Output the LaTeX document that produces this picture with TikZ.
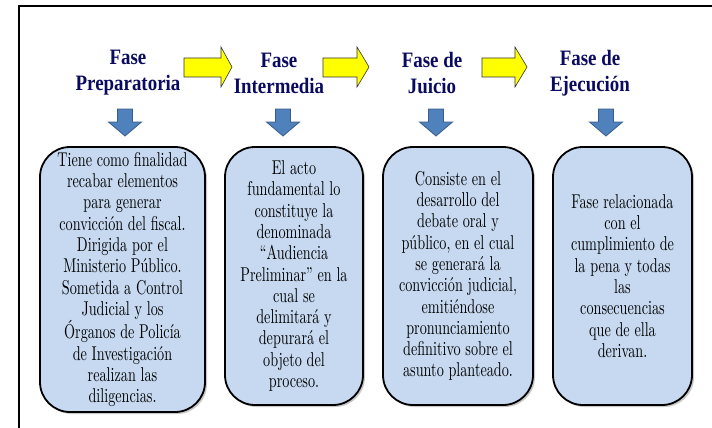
\documentclass[tikz,border=0pt]{standalone}
\usepackage{fontspec}
\newfontfamily\headfont[FakeStretch=0.86]{Liberation Serif}
\newfontfamily\boxfont[Extension=.otf,FakeStretch=0.71]{lmroman10-regular}
\definecolor{navy}{RGB}{10,10,96}
\definecolor{boxblue}{RGB}{198,217,240}
\definecolor{arrblue}{RGB}{79,129,189}
\definecolor{arrblueline}{RGB}{56,93,138}
\definecolor{yel}{RGB}{255,255,0}
\tikzset{
  head/.style={align=center,text=navy,font=\headfont\bfseries\fontsize{22}{26}\selectfont,inner sep=0pt},
  phasebox/.style={draw=black,line width=1.8pt,fill=boxblue,rounded corners=30pt,align=center,
     font=\boxfont\fontsize{20}{21.3}\selectfont,inner sep=0pt},
  yarrow/.style={fill=yel,draw=black!80,line width=0.6pt},
  barrow/.style={fill=arrblue,draw=arrblueline,line width=0.8pt},
  shadowbox/.style={fill=black!22,rounded corners=30pt}
}
\begin{document}
\begin{tikzpicture}[x=1pt,y=-1pt]
\useasboundingbox (0,0) rectangle (712,428);
% frame
\draw[line width=2.4pt] (19,428) -- (19,6) -- (712,6);
% headings
\node[head] (h1) at (128,73) {Fase\\Preparatoria};
\node[head] (h2) at (279,73) {Fase\\Intermedia};
\node[head] (h3) at (432,73) {Fase de\\Juicio};
\node[head] (h4) at (590,73) {Fase de\\Ejecución};
% yellow arrows
\draw[yarrow] (184,58) -- (221,58) -- (221,47) -- (232,67) -- (221,87) -- (221,77) -- (184,77) -- cycle;
\draw[yarrow] (323,58) -- (357,58) -- (357,47) -- (369,67) -- (357,87) -- (357,77) -- (323,77) -- cycle;
\draw[yarrow] (482,58) -- (515,58) -- (515,47) -- (527,67) -- (515,87) -- (515,77) -- (482,77) -- cycle;
% blue down arrows
\foreach \c in {125,283,436,606}{
  \draw[barrow] (\c-7.5,109) -- (\c+7.5,109) -- (\c+7.5,122) -- (\c+16.5,122) -- (\c,136)
     -- (\c-16.5,122) -- (\c-7.5,122) -- cycle;
}
% shadows
\fill[shadowbox] (42,149) rectangle (207,414);
\fill[shadowbox] (227,149) rectangle (365,407);
\fill[shadowbox] (385,149) rectangle (535,407);
\fill[shadowbox] (555,149) rectangle (694,407);
% boxes
\node[phasebox,minimum width=165pt,minimum height=265pt] (b1) at (122.5,279.5)
 {Tiene como finalidad\\recabar elementos\\para generar\\convicción del fiscal.\\Dirigida por el\\Ministerio Público.\\Sometida a Control\\Judicial y los\\Órganos de Policía\\de Investigación\\realizan las\\diligencias.};
\node[phasebox,minimum width=138pt,minimum height=258pt] (b2) at (294,276)
 {El acto\\fundamental lo\\constituye la\\denominada\\“Audiencia\\Preliminar” en la\\cual se\\delimitará y\\depurará el\\objeto del\\proceso.};
\node[phasebox,minimum width=150pt,minimum height=258pt] (b3) at (458,276)
 {Consiste en el\\desarrollo del\\debate oral y\\público, en el cual\\se generará la\\convicción judicial,\\emitiéndose\\pronunciamiento\\definitivo sobre el\\asunto planteado.};
\node[phasebox,minimum width=139pt,minimum height=258pt] (b4) at (622.5,276)
 {Fase relacionada\\con el\\cumplimiento de\\la pena y todas\\las\\consecuencias\\que de ella\\derivan.};
\end{tikzpicture}
\end{document}
